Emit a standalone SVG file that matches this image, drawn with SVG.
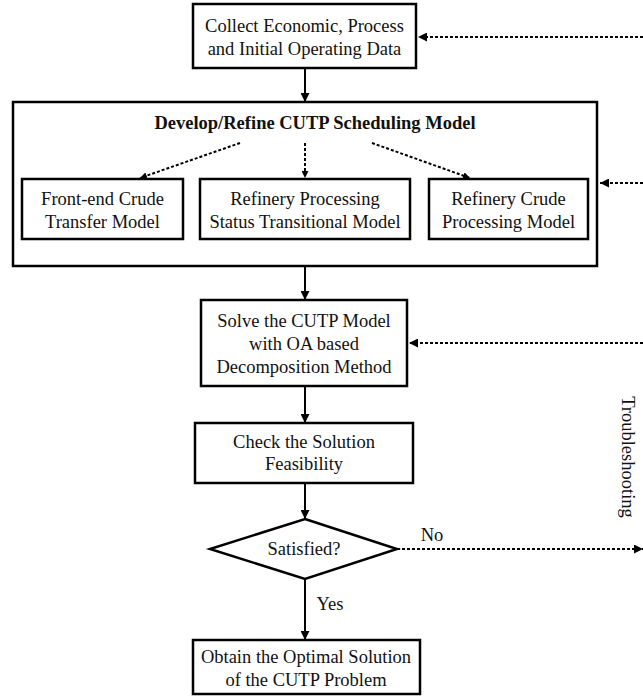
<svg xmlns="http://www.w3.org/2000/svg" width="643" height="697" viewBox="0 0 643 697">
<style>
.box{fill:#fff;stroke:#000;stroke-width:2.5}
.t{font-family:"Liberation Serif","Times New Roman",serif;font-size:18.5px;fill:#111;text-anchor:middle}
.b{font-weight:bold}
.solid{stroke:#000;stroke-width:2;fill:none}
.dash{stroke:#000;stroke-width:2;fill:none;stroke-dasharray:3,2}
</style>
<defs>
<marker id="ah" viewBox="0 0 10 10" refX="10" refY="5" markerWidth="7" markerHeight="7" markerUnits="userSpaceOnUse" orient="auto">
<path d="M0,0 L10,5 L0,10 z" fill="#000"/>
</marker>
<marker id="ahL" viewBox="0 0 10 10" refX="10" refY="5" markerWidth="9" markerHeight="9" markerUnits="userSpaceOnUse" orient="auto">
<path d="M0,0 L10,5 L0,10 z" fill="#000"/>
</marker>
</defs>

<g id="n-collect">
<rect class="box" x="193" y="4" width="223" height="64"/>
<text class="t" x="304.5" y="32">Collect Economic, Process</text>
<text class="t" x="304.5" y="55">and Initial Operating Data</text>
</g>

<g id="n-develop">
<rect class="box" x="13" y="102" width="584" height="164"/>
<text class="t b" x="315" y="129">Develop/Refine CUTP Scheduling Model</text>
</g>

<g id="n-frontend">
<rect class="box" x="22" y="179" width="161" height="60"/>
<text class="t" x="102.5" y="205">Front-end Crude</text>
<text class="t" x="102.5" y="228">Transfer Model</text>
</g>

<g id="n-status">
<rect class="box" x="200" y="179" width="210" height="60"/>
<text class="t" x="305" y="205">Refinery Processing</text>
<text class="t" x="305" y="228">Status Transitional Model</text>
</g>

<g id="n-crudeproc">
<rect class="box" x="429" y="179" width="159" height="60"/>
<text class="t" x="508.5" y="205">Refinery Crude</text>
<text class="t" x="508.5" y="228">Processing Model</text>
</g>

<g id="n-solve">
<rect class="box" x="201" y="300" width="206" height="86"/>
<text class="t" x="304" y="327">Solve the CUTP Model</text>
<text class="t" x="304" y="350">with OA based</text>
<text class="t" x="304" y="373">Decomposition Method</text>
</g>

<g id="n-check">
<rect class="box" x="195" y="423" width="218" height="60"/>
<text class="t" x="304" y="448">Check the Solution</text>
<text class="t" x="304" y="470">Feasibility</text>
</g>

<g id="n-satisfied">
<polygon class="box" points="305,519 397,549 305,579 210,549"/>
<text class="t" x="304" y="555">Satisfied?</text>
</g>

<g id="n-obtain">
<rect class="box" x="193" y="640" width="227" height="54"/>
<text class="t" x="306" y="663">Obtain the Optimal Solution</text>
<text class="t" x="306" y="686">of the CUTP Problem</text>
</g>

<g id="connectors">
<line class="solid" x1="305" y1="68" x2="305" y2="102" marker-end="url(#ahL)"/>
<line class="dash" x1="240" y1="143" x2="140" y2="178" marker-end="url(#ah)"/>
<line class="dash" x1="305" y1="143" x2="305" y2="178" marker-end="url(#ah)"/>
<line class="dash" x1="372" y1="143" x2="470" y2="178" marker-end="url(#ah)"/>
<line class="solid" x1="305" y1="266" x2="305" y2="300" marker-end="url(#ahL)"/>
<line class="solid" x1="305" y1="386" x2="305" y2="423" marker-end="url(#ahL)"/>
<line class="solid" x1="305" y1="483" x2="305" y2="519" marker-end="url(#ahL)"/>
<line class="solid" x1="305" y1="579" x2="305" y2="640" marker-end="url(#ahL)"/>
<line class="dash" x1="397" y1="549" x2="643" y2="549" marker-end="url(#ahL)"/>
<line class="dash" x1="643" y1="37" x2="418" y2="37" marker-end="url(#ahL)"/>
<line class="dash" x1="643" y1="183" x2="600" y2="183" marker-end="url(#ahL)"/>
<line class="dash" x1="643" y1="343" x2="409" y2="343" marker-end="url(#ahL)"/>
<text class="t" x="432" y="541">No</text>
<text class="t" x="330" y="610">Yes</text>
<text class="t" x="0" y="0" transform="translate(622,457) rotate(90)">Troubleshooting</text>
</g>
</svg>
